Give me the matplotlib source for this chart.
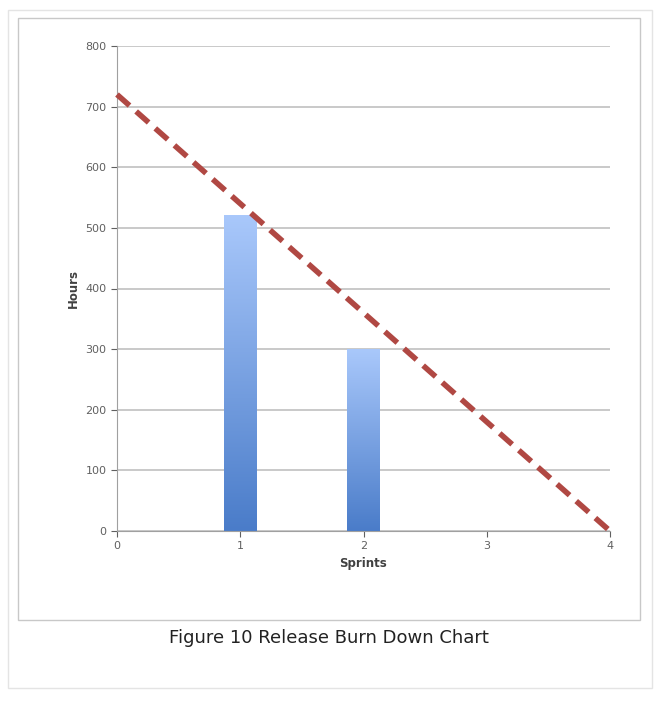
import matplotlib.pyplot as plt
import matplotlib.patches as mpatches
import numpy as np

sprints = [1, 2]
hours = [520, 300]
ideal_x = [0, 4]
ideal_y = [720, 0]

fig = plt.figure(figsize=(6.68, 7.08), dpi=100)

# card borders
fig.patches.append(mpatches.Rectangle((8/668, 1-688/708), 644/668, 678/708, transform=fig.transFigure,
                                      fill=False, edgecolor='#e4e4e4', lw=1))
fig.patches.append(mpatches.Rectangle((18/668, 1-620/708), 622/668, 602/708, transform=fig.transFigure,
                                      fill=False, edgecolor='#c8c8c8', lw=1))

ax = fig.add_axes([117/668, 1-531/708, 493/668, 485/708])
ax.set_xlim(0, 4)
ax.set_ylim(0, 800)
ax.set_yticks(range(0, 801, 100))
ax.set_xticks(range(0, 5))
ax.yaxis.grid(True, color='#c0c0c0', lw=1.2)
ax.set_axisbelow(True)
for s in ['top', 'right']:
    ax.spines[s].set_visible(False)
for s in ['left', 'bottom']:
    ax.spines[s].set_color('#a0a0a0')
ax.tick_params(colors='#606060', labelsize=8, length=4)
ax.tick_params(axis='x', direction='out')

grad = np.linspace(0, 1, 256).reshape(-1, 1)
from matplotlib.colors import LinearSegmentedColormap
cmap = LinearSegmentedColormap.from_list('b', ['#4a7cc9', '#a9c8fb'])
w = 0.26
for x, h in zip(sprints, hours):
    ax.imshow(grad, cmap=cmap, aspect='auto', origin='lower',
              extent=[x - w/2, x + w/2, 0, h], zorder=2)
ax.set_xlim(0, 4)
ax.set_ylim(0, 800)

ax.plot(ideal_x, ideal_y, color='#b04843', lw=4, ls=(0, (3, 1.6)), zorder=3, clip_on=False)

ax.set_ylabel('Hours', fontsize=8.5, fontweight='bold', color='#404040')
ax.set_xlabel('Sprints', fontsize=8.5, fontweight='bold', color='#404040')

fig.text(329/668, 1-638/708, 'Figure 10 Release Burn Down Chart', ha='center', va='center',
         fontsize=13, color='#222222')

fig.savefig('out.png', dpi=100)
